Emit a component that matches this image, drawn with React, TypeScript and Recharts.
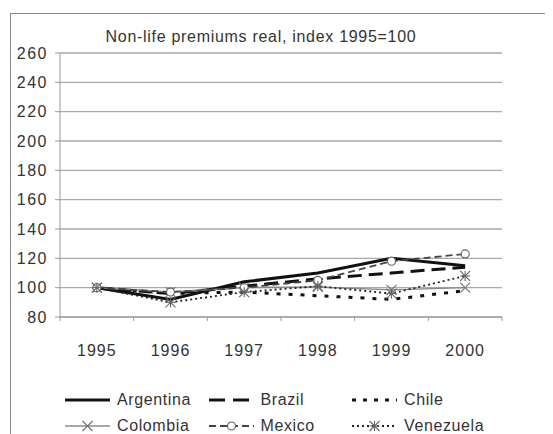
import React from 'react';
import { LineChart, Line, XAxis, YAxis, CartesianGrid, Legend, ReferenceLine } from 'recharts';

const years = [1995, 1996, 1997, 1998, 1999, 2000];
const argentina = [100, 92, 104, 110, 120, 115];
const brazil = [100, 96, 101, 106, 110, 114];
const chile = [100, 96, 97, 94.5, 92, 98];
const colombia = [100, 97, 100, 100.5, 98.5, 100];
const mexico = [100, 97, 100, 105, 118, 123];
const venezuela = [100, 90, 97, 101, 96, 108];
const yTicks = [80, 100, 120, 140, 160, 180, 200, 220, 240, 260];
const title = 'Non-life premiums real, index 1995=100';

const data = years.map((year, i) => ({
  year,
  Argentina: argentina[i],
  Brazil: brazil[i],
  Chile: chile[i],
  Colombia: colombia[i],
  Mexico: mexico[i],
  Venezuela: venezuela[i],
}));

const edges = [...years.map((y) => y - 0.5), years[years.length - 1] + 0.5];

const FONT = '"Liberation Sans", Arial, Helvetica, sans-serif';
const TXT = '#333';

const XMark = (props: any) => {
  const { cx, cy } = props;
  if (cx == null || cy == null) return null;
  const s = 5;
  return (
    <g stroke="#777" strokeWidth={1.2}>
      <line x1={cx - s} y1={cy - s} x2={cx + s} y2={cy + s} />
      <line x1={cx - s} y1={cy + s} x2={cx + s} y2={cy - s} />
    </g>
  );
};

const CircleMark = (props: any) => {
  const { cx, cy } = props;
  if (cx == null || cy == null) return null;
  return <circle cx={cx} cy={cy} r={4} fill="#fff" stroke="#666" strokeWidth={1.2} />;
};

const StarMark = (props: any) => {
  const { cx, cy } = props;
  if (cx == null || cy == null) return null;
  const s = 5;
  return (
    <g stroke="#666" strokeWidth={1.1}>
      <line x1={cx - s} y1={cy - s} x2={cx + s} y2={cy + s} />
      <line x1={cx - s} y1={cy + s} x2={cx + s} y2={cy - s} />
      <line x1={cx} y1={cy - s} x2={cx} y2={cy + s} />
      <line x1={cx - s} y1={cy} x2={cx + s} y2={cy} />
    </g>
  );
};

const series = [
  { key: 'Argentina', stroke: '#111', width: 3, dash: undefined as string | undefined, dot: false as any, marker: null as any },
  { key: 'Brazil', stroke: '#111', width: 3, dash: '14 7', dot: false, marker: null },
  { key: 'Chile', stroke: '#111', width: 3, dash: '4 8', dot: false, marker: null },
  { key: 'Colombia', stroke: '#888', width: 1.4, dash: undefined, dot: <XMark />, marker: 'x' },
  { key: 'Mexico', stroke: '#444', width: 1.8, dash: '7 4', dot: <CircleMark />, marker: 'o' },
  { key: 'Venezuela', stroke: '#222', width: 1.8, dash: '2 3', dot: <StarMark />, marker: '*' },
];

const legendIconDash: Record<string, string | undefined> = {
  Argentina: undefined,
  Brazil: '16 8',
  Chile: '4 7',
  Colombia: undefined,
  Mexico: '7 4',
  Venezuela: '2 3',
};

const LegendIcon = ({ s }: { s: any }) => {
  const w = 45;
  const h = 16;
  const cy = h / 2;
  return (
    <svg width={w} height={h} style={{ display: 'block' }}>
      <line x1={0} y1={cy} x2={w} y2={cy} stroke={s.stroke} strokeWidth={s.width} strokeDasharray={legendIconDash[s.key]} />
      {s.marker === 'x' && <XMark cx={w / 2} cy={cy} />}
      {s.marker === 'o' && <CircleMark cx={w / 2} cy={cy} />}
      {s.marker === '*' && <StarMark cx={w / 2} cy={cy} />}
    </svg>
  );
};

const LegendBox = () => (
  <div style={{ position: 'relative', height: 52, width: 545 }}>
    {series.map((s, i) => {
      const col = i % 3;
      const row = Math.floor(i / 3);
      return (
        <div
          key={s.key}
          style={{
            position: 'absolute',
            left: 57 + col * 143.5,
            top: 5 + row * 26,
            height: 26,
            display: 'flex',
            alignItems: 'center',
            fontFamily: FONT,
            fontSize: 16,
            letterSpacing: 0.6,
            color: TXT,
            whiteSpace: 'nowrap',
          }}
        >
          <LegendIcon s={s} />
          <span style={{ marginLeft: 7 }}>{s.key}</span>
        </div>
      );
    })}
  </div>
);

export default function App() {
  return (
    <div style={{ position: 'relative', width: 545, height: 426, overflow: 'hidden' }}>
      <div
        style={{
          position: 'absolute',
          left: 2,
          top: 5,
          width: 700,
          height: 600,
          border: '1px solid #8a8a8a',
          boxSizing: 'border-box',
        }}
      />
      <div
        style={{
          position: 'absolute',
          left: 0,
          width: 506,
          top: 19,
          textAlign: 'center',
          fontFamily: FONT,
          fontSize: 16,
          letterSpacing: 0.7,
          color: TXT,
          lineHeight: '20px',
        }}
      >
        {title}
      </div>
      <LineChart width={545} height={426} data={data} margin={{ top: 45, right: 51, bottom: 0, left: 0 }}>
        <CartesianGrid vertical={false} stroke="#a8a8a8" strokeWidth={1.3} />
        <XAxis
          dataKey="year"
          type="number"
          domain={[1994.5, 2000.5]}
          ticks={years}
          interval={0}
          tickLine={false}
          tickSize={0}
          tickMargin={28}
          height={65}
          axisLine={{ stroke: '#999' }}
          tick={{ fill: TXT, fontSize: 16, fontFamily: FONT, letterSpacing: 1 }}
        />
        <YAxis
          domain={[80, 260]}
          ticks={yTicks}
          interval={0}
          width={52}
          tickSize={5}
          tickMargin={7}
          axisLine={{ stroke: '#999' }}
          tickLine={{ stroke: '#999' }}
          tick={{ fill: TXT, fontSize: 16, fontFamily: FONT, letterSpacing: 1.5 }}
        />
        {edges.map((e) => (
          <ReferenceLine
            key={e}
            segment={[{ x: e, y: 80 }, { x: e, y: 77.3 }]}
            stroke="#999"
            ifOverflow="visible"
          />
        ))}
        {series.map((s) => (
          <Line
            key={s.key}
            dataKey={s.key}
            stroke={s.stroke}
            strokeWidth={s.width}
            strokeDasharray={s.dash}
            dot={s.dot}
            activeDot={false}
            isAnimationActive={false}
            type="linear"
          />
        ))}
        <Legend verticalAlign="bottom" content={() => <LegendBox />} wrapperStyle={{ left: 0, width: 545 }} />
      </LineChart>
    </div>
  );
}
